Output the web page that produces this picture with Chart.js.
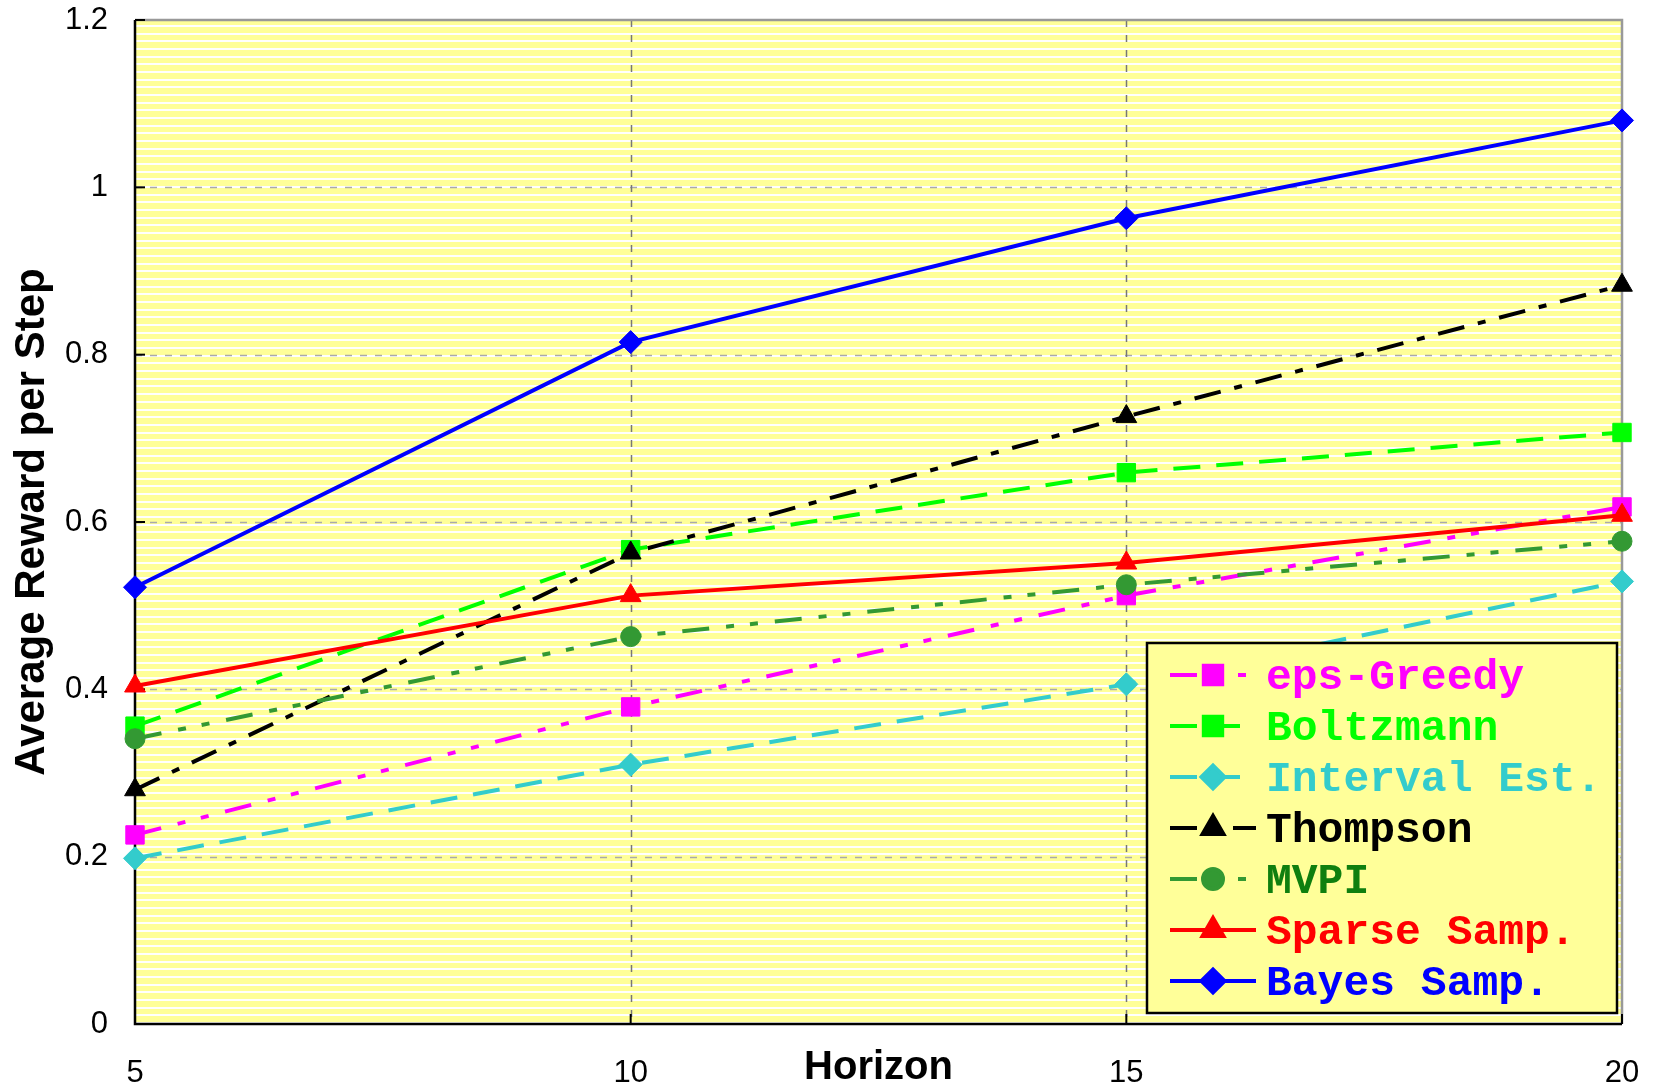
<!DOCTYPE html>
<html>
<head>
<meta charset="utf-8">
<script src="https://cdn.jsdelivr.net/npm/chart.js@4.4.1/dist/chart.umd.min.js"></script>
<style>
  html, body { margin: 0; padding: 0; background: #fff; }
</style>
</head>
<body>
<canvas id="chart" width="1654" height="1088"></canvas>
<script>
// horizons on the x axis
const horizons = [5, 10, 15, 20];
const yTicks = [0, 0.2, 0.4, 0.6, 0.8, 1, 1.2];

// average reward per step, one array per method
const epsGreedy   = [0.226, 0.379, 0.512, 0.618];
const boltzmann   = [0.356, 0.567, 0.659, 0.707];
const intervalEst = [0.198, 0.310, 0.406, 0.529];
const thompson    = [0.280, 0.563, 0.726, 0.883];
const mvpi        = [0.341, 0.463, 0.525, 0.577];
const sparseSamp  = [0.404, 0.512, 0.551, 0.608];
const bayesSamp   = [0.522, 0.815, 0.963, 1.080];

const seriesNames = ['eps-Greedy', 'Boltzmann', 'Interval Est.', 'Thompson', 'MVPI', 'Sparse Samp.', 'Bayes Samp.'];
const seriesData = [epsGreedy, boltzmann, intervalEst, thompson, mvpi, sparseSamp, bayesSamp];

const lineColors = ['#ff00ff', '#00ff00', '#33cccc', '#000000', '#339933', '#ff0000', '#0000ff'];
const textColors = ['#ff00ff', '#00ff00', '#33cccc', '#000000', '#0f7f0f', '#ff0000', '#0000ff'];
const dashes = [
    [27, 17, 8, 16, 8, 17],
    [27, 16],
    [27, 16],
    [27, 14, 8, 14],
    [27, 17, 8, 16, 8, 17],
    [],
    []
];
const markers = ['rect', 'rect', 'rectRot', 'triangle', 'circle', 'triangle', 'rectRot'];
const markerSizes = [13, 13, 11.5, 12, 10, 12, 11.5];

const datasets = seriesNames.map((name, i) => ({
    label: name,
    data: horizons.map((h, j) => ({ x: h, y: seriesData[i][j] })),
    borderColor: lineColors[i],
    backgroundColor: lineColors[i],
    borderWidth: 4,
    borderDash: dashes[i],
    pointStyle: markers[i],
    pointRadius: markerSizes[i],
    pointBackgroundColor: lineColors[i],
    pointBorderColor: lineColors[i],
    pointBorderWidth: 1,
    tension: 0,
    clip: false,
    order: 6 - i
}));

// striped yellow plot area, dashed grid, frame and inward ticks
const plotDecor = {
    id: 'plotDecor',
    beforeDatasetsDraw(chart) {
        const { ctx, chartArea: a, scales: { x, y } } = chart;
        ctx.save();
        ctx.fillStyle = '#ffff99';
        ctx.fillRect(a.left, a.top, a.width, a.height);
        ctx.fillStyle = '#ffffff';
        for (let s = a.top + 5; s < a.bottom - 1; s += 7.67) {
            ctx.fillRect(a.left, Math.round(s), a.width, 2);
        }

        ctx.strokeStyle = '#aaaaaa';
        ctx.lineWidth = 1.5;
        ctx.setLineDash([7, 8]);
        y.ticks.forEach(t => {
            if (t.value <= y.min || t.value >= y.max) return;
            const py = Math.round(y.getPixelForValue(t.value)) + 0.5;
            ctx.beginPath(); ctx.moveTo(a.left, py); ctx.lineTo(a.right, py); ctx.stroke();
        });
        ctx.strokeStyle = '#777777';
        x.ticks.forEach(t => {
            if (t.value <= x.min || t.value >= x.max) return;
            const px = Math.round(x.getPixelForValue(t.value)) + 0.5;
            ctx.beginPath(); ctx.moveTo(px, a.top); ctx.lineTo(px, a.bottom); ctx.stroke();
        });
        ctx.setLineDash([]);

        ctx.lineWidth = 2.5;
        ctx.strokeStyle = '#999999';
        ctx.beginPath();
        ctx.moveTo(a.left, a.top); ctx.lineTo(a.right, a.top); ctx.lineTo(a.right, a.bottom);
        ctx.stroke();
        ctx.strokeStyle = '#000000';
        ctx.beginPath();
        ctx.moveTo(a.left, a.top); ctx.lineTo(a.left, a.bottom); ctx.lineTo(a.right, a.bottom);
        ctx.stroke();

        ctx.lineWidth = 2;
        y.ticks.forEach(t => {
            const py = y.getPixelForValue(t.value);
            ctx.beginPath(); ctx.moveTo(a.left, py); ctx.lineTo(a.left + 10, py); ctx.stroke();
        });
        x.ticks.forEach(t => {
            const px = x.getPixelForValue(t.value);
            ctx.beginPath(); ctx.moveTo(px, a.bottom); ctx.lineTo(px, a.bottom - 10); ctx.stroke();
        });
        ctx.restore();
    }
};

// boxed legend in the lower right corner, line sample with marker in the middle
const boxLegend = {
    id: 'boxLegend',
    afterDatasetsDraw(chart) {
        const ctx = chart.ctx;
        const box = { x: 1147, y: 643, w: 470, h: 370 };
        ctx.save();
        ctx.fillStyle = '#ffff99';
        ctx.fillRect(box.x, box.y, box.w, box.h);
        ctx.strokeStyle = '#000000';
        ctx.lineWidth = 2.5;
        ctx.strokeRect(box.x, box.y, box.w, box.h);

        chart.data.datasets.forEach((ds, i) => {
            const rowY = 675 + i * 51;
            ctx.strokeStyle = ds.borderColor;
            ctx.fillStyle = ds.borderColor;
            ctx.lineWidth = 4;
            ctx.setLineDash(ds.borderDash);
            ctx.beginPath(); ctx.moveTo(1170, rowY); ctx.lineTo(1256, rowY); ctx.stroke();
            ctx.setLineDash([]);
            Chart.helpers.drawPoint(ctx, {
                pointStyle: ds.pointStyle,
                radius: ds.pointRadius,
                rotation: 0,
                borderWidth: 1
            }, 1213, rowY);
            ctx.fillStyle = textColors[i];
            ctx.font = 'bold 43px "Liberation Mono", "Courier New", monospace';
            ctx.textBaseline = 'middle';
            ctx.textAlign = 'left';
            ctx.fillText(ds.label, 1266, rowY + 3);
        });
        ctx.restore();
    }
};

new Chart(document.getElementById('chart'), {
    type: 'line',
    data: { datasets: datasets },
    options: {
        responsive: false,
        animation: false,
        layout: { padding: { top: 20, right: 32, left: 0, bottom: 0 } },
        plugins: {
            legend: { display: false },
            tooltip: { enabled: false }
        },
        scales: {
            x: {
                type: 'linear',
                min: 5,
                max: 20,
                afterFit: s => { s.height = 64; },
                afterBuildTicks: s => { s.ticks = horizons.map(v => ({ value: v })); },
                grid: { display: false, drawTicks: true, tickLength: 31 },
                border: { display: false },
                ticks: {
                    padding: 0,
                    color: '#000',
                    font: { family: '"Liberation Sans", Arial, sans-serif', size: 31 }
                },
                title: {
                    display: true,
                    text: 'Horizon',
                    color: '#000',
                    padding: { top: 0, bottom: 0 },
                    font: { family: '"Liberation Sans", Arial, sans-serif', size: 40, weight: 'bold', lineHeight: 1 }
                }
            },
            y: {
                min: 0,
                max: 1.2,
                afterFit: s => { s.width = 135; },
                afterBuildTicks: s => { s.ticks = yTicks.map(v => ({ value: v })); },
                grid: { display: false, drawTicks: true, tickLength: 27 },
                border: { display: false },
                ticks: {
                    padding: 0,
                    color: '#000',
                    font: { family: '"Liberation Sans", Arial, sans-serif', size: 31 },
                    callback: v => String(+v.toFixed(1))
                },
                title: {
                    display: true,
                    text: 'Average Reward per Step',
                    color: '#000',
                    padding: { top: 11, bottom: 0 },
                    font: { family: '"Liberation Sans", Arial, sans-serif', size: 42, weight: 'bold', lineHeight: 1 }
                }
            }
        }
    },
    plugins: [plotDecor, boxLegend]
});
</script>
</body>
</html>
